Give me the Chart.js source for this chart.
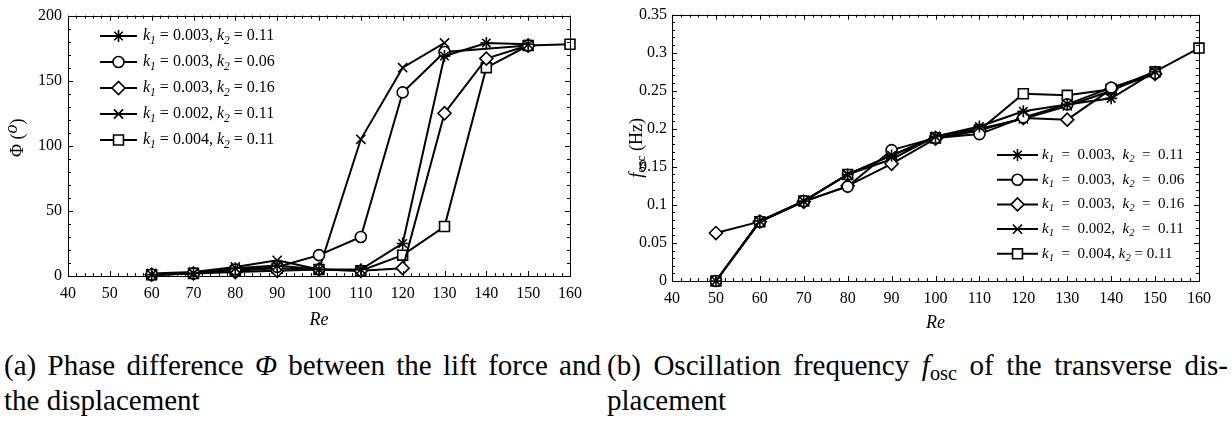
<!DOCTYPE html>
<html>
<head>
<meta charset="utf-8">
<script src="https://cdn.jsdelivr.net/npm/chart.js@4.4.0/dist/chart.umd.min.js"></script>
<style>
  body { margin: 0; width: 1232px; height: 425px; background: #fff; position: relative; overflow: hidden; font-family: "Liberation Serif", serif; color: #000; }
  #phiChart { position: absolute; left: 0; top: 0; }
  #freqChart { position: absolute; left: 615px; top: 0; }
  .cap { position: absolute; font-size: 29px; line-height: 35px; white-space: nowrap; }
  .cap.just { white-space: normal; text-align: justify; text-align-last: justify; }
  .cap sub { font-size: 0.7em; vertical-align: -0.25em; line-height: 0; }
</style>
</head>
<body>
<canvas id="phiChart" width="600" height="335"></canvas>
<canvas id="freqChart" width="617" height="338"></canvas>
<div class="cap just" style="left:4px; top:348px; width:597px">(a) Phase difference <i>Φ</i> between the lift force and</div>
<div class="cap" style="left:4px; top:383px">the displacement</div>
<div class="cap just" style="left:607px; top:348px; width:621px">(b) Oscillation frequency <i>f</i><sub>osc</sub> of the transverse dis-</div>
<div class="cap" style="left:607px; top:383px">placement</div>

<script>
// Данные: Re и значения для каждой пары (k1, k2)
const reLeft = [60, 70, 80, 90, 100, 110, 120, 130, 140, 150, 160];
const phiK003K011 = [1, 2, 6, 8, 5, 5, 25, 169, 179, 178, null];
const phiK003K006 = [1, 2, 5, 7, 16, 30, 141, 172, null, 177, null];
const phiK003K016 = [1, 2, 3, 4, 5, 4, 6, 125, 167, 177, null];
const phiK002K011 = [2, 3, 7, 12, 5, 105, 160, 179, null, null, null];
const phiK004K011 = [1, 2, 4, 6, 5, 4, 16, 38, 160, 177, 178];

const reRight = [50, 60, 70, 80, 90, 100, 110, 120, 130, 140, 150, 160];
const fK003K011 = [0, 0.079, 0.105, 0.14, 0.165, 0.19, 0.203, 0.223, 0.232, 0.24, 0.275, null];
const fK003K006 = [0, 0.078, 0.105, 0.124, 0.172, 0.188, 0.193, 0.215, 0.232, 0.254, 0.273, null];
const fK003K016 = [0.063, 0.078, 0.104, 0.125, 0.154, 0.187, 0.198, 0.214, 0.212, 0.252, 0.272, null];
const fK002K011 = [0, 0.078, 0.105, 0.14, 0.16, 0.19, 0.2, 0.213, 0.23, 0.25, 0.275, null];
const fK004K011 = [0, 0.078, 0.105, 0.14, 0.165, 0.188, 0.198, 0.246, 0.244, 0.252, 0.275, 0.306];

const k1Values = ["0.003", "0.003", "0.003", "0.002", "0.004"];
const k2Values = ["0.11", "0.06", "0.16", "0.11", "0.11"];
const xTicks = [40, 50, 60, 70, 80, 90, 100, 110, 120, 130, 140, 150, 160];

// Маркеры как в оригинале
const markers = ["star", "circle", "rectRot", "crossRot", "rect"];
const markerRadius = [6, 5.5, 6.5, 6.5, 7];
const FONT = "Liberation Serif";

function makeSets(xs, series) {
  return series.map(function (ys, i) {
    return {
      label: "k1 = " + k1Values[i] + ", k2 = " + k2Values[i],
      data: xs.map(function (x, j) { return { x: x, y: ys[j] }; }),
      borderColor: "#000",
      borderWidth: 2,
      backgroundColor: "#fff",
      pointStyle: markers[i],
      pointRadius: markerRadius[i],
      pointBorderWidth: 1.6,
      pointBackgroundColor: "#fff",
      pointBorderColor: "#000",
      spanGaps: true,
      tension: 0,
      clip: false,
    };
  });
}

// Рисует строку из кусочков (курсив, индекс)
function drawSegs(ctx, segs, x, y, size) {
  segs.forEach(function (s) {
    const sz = s.sub ? size * 0.72 : size;
    ctx.font = (s.it ? "italic " : "") + sz + "px '" + FONT + "'";
    ctx.fillText(s.t, x, y + (s.sub ? size * 0.28 : 0) - (s.sup ? size * 0.3 : 0));
    x += ctx.measureText(s.t).width;
  });
  return x;
}
function segsWidth(ctx, segs, size) {
  let w = 0;
  segs.forEach(function (s) {
    const sz = s.sub ? size * 0.72 : size;
    ctx.font = (s.it ? "italic " : "") + sz + "px '" + FONT + "'";
    w += ctx.measureText(s.t).width;
  });
  return w;
}

// Рамка, внутренние засечки, подпись оси Y и легенда
const framePlugin = {
  id: "frame",
  afterDraw(chart, args, o) {
    const ctx = chart.ctx, a = chart.chartArea;
    const xs = chart.scales.x, ys = chart.scales.y;
    ctx.save();
    ctx.strokeStyle = "#000";
    ctx.fillStyle = "#000";
    ctx.lineWidth = 1;
    ctx.strokeRect(Math.round(a.left) + 0.5, Math.round(a.top) + 0.5, Math.round(a.right - a.left), Math.round(a.bottom - a.top));

    ctx.beginPath();
    let n = Math.round((xs.max - xs.min) / o.xMinor);
    for (let k = 0; k <= n; k++) {
      const px = Math.round(xs.getPixelForValue(xs.min + k * o.xMinor)) + 0.5;
      const len = k % o.xEvery === 0 ? 5 : 3;
      ctx.moveTo(px, a.bottom); ctx.lineTo(px, a.bottom - len);
      ctx.moveTo(px, a.top); ctx.lineTo(px, a.top + len);
    }
    n = Math.round((ys.max - ys.min) / o.yMinor);
    for (let k = 0; k <= n; k++) {
      const py = Math.round(ys.getPixelForValue(ys.min + k * o.yMinor)) + 0.5;
      const len = k % o.yEvery === 0 ? 5 : 3;
      ctx.moveTo(a.left, py); ctx.lineTo(a.left + len, py);
      ctx.moveTo(a.right, py); ctx.lineTo(a.right - len, py);
    }
    ctx.stroke();

    // подпись оси Y
    ctx.save();
    ctx.translate(o.yTitleX, (a.top + a.bottom) / 2 + o.yTitleShift);
    ctx.rotate(-Math.PI / 2);
    ctx.textBaseline = "middle";
    ctx.textAlign = "left";
    const tw = segsWidth(ctx, o.yTitle, o.yTitleSize);
    drawSegs(ctx, o.yTitle, -tw / 2, 0, o.yTitleSize);
    ctx.restore();

    // легенда
    const L = o.legend;
    ctx.textBaseline = "middle";
    ctx.textAlign = "left";
    chart.data.datasets.forEach(function (ds, i) {
      const y = L.y + i * L.dy;
      ctx.lineWidth = 2;
      ctx.beginPath();
      ctx.moveTo(L.x0, y); ctx.lineTo(L.x1, y);
      ctx.stroke();
      ctx.lineWidth = 1.6;
      ctx.fillStyle = "#fff";
      Chart.helpers.drawPoint(ctx, { pointStyle: ds.pointStyle, radius: ds.pointRadius, rotation: 0, borderWidth: 1.6 }, (L.x0 + L.x1) / 2, y);
      ctx.fillStyle = "#000";
      const segs = [
        { t: "k", it: true }, { t: "1", it: true, sub: true }, { t: L.eq + k1Values[i] + "," + (i === 4 ? L.gap2 : L.gap) },
        { t: "k", it: true }, { t: "2", it: true, sub: true }, { t: (i === 4 ? " = " : L.eq) + k2Values[i] },
      ];
      drawSegs(ctx, segs, L.tx, y, L.size);
    });
    ctx.restore();
  },
};

function makeChart(id, xs, series, yOpts, fit, frame) {
  return new Chart(document.getElementById(id), {
    type: "line",
    data: { datasets: makeSets(xs, series) },
    options: {
      responsive: false,
      animation: false,
      layout: { padding: fit.padding },
      plugins: { legend: { display: false }, tooltip: { enabled: false }, frame: frame },
      scales: {
        x: {
          type: "linear",
          min: 40, max: 160,
          afterBuildTicks: function (s) { s.ticks = xTicks.map(function (v) { return { value: v }; }); },
          afterFit: function (s) { s.height = fit.xHeight; },
          grid: { display: false, drawTicks: false },
          border: { display: false },
          ticks: { color: "#000", padding: 8, maxRotation: 0, autoSkip: false, font: { family: FONT, size: 16 } },
          title: { display: true, text: "Re", color: "#000", padding: { top: 0, bottom: 4 }, font: { family: FONT, size: 18, style: "italic" } },
        },
        y: Object.assign({
          afterFit: function (s) { s.width = fit.yWidth; },
          grid: { display: false, drawTicks: false },
          border: { display: false },
        }, yOpts),
      },
    },
    plugins: [framePlugin],
  });
}

makeChart("phiChart", reLeft,
  [phiK003K011, phiK003K006, phiK003K016, phiK002K011, phiK004K011],
  {
    min: 0, max: 200,
    ticks: { stepSize: 50, color: "#000", padding: 6, font: { family: FONT, size: 16 } },
  },
  { padding: { top: 9, right: 30, left: 0, bottom: 0 }, xHeight: 59, yWidth: 68 },
  {
    xMinor: 2, xEvery: 5, yMinor: 10, yEvery: 5,
    yTitleX: 18, yTitleShift: -8, yTitleSize: 18,
    yTitle: [{ t: "Φ (" }, { t: "o", it: true, sup: true }, { t: ")" }],
    legend: { x0: 100, x1: 137, tx: 143, y: 36, dy: 26, size: 16, eq: " = ", gap: " ", gap2: " " },
  });

makeChart("freqChart", reRight,
  [fK003K011, fK003K006, fK003K016, fK002K011, fK004K011],
  {
    min: 0, max: 0.35,
    ticks: {
      stepSize: 0.05, color: "#000", padding: 5, font: { family: FONT, size: 16 },
      callback: function (v) { return String(+v.toFixed(2)); },
    },
  },
  { padding: { top: 13, right: 33, left: 0, bottom: 0 }, xHeight: 57, yWidth: 57 },
  {
    xMinor: 2, xEvery: 5, yMinor: 0.01, yEvery: 5,
    yTitleX: 22, yTitleShift: 0, yTitleSize: 18,
    yTitle: [{ t: "f", it: true }, { t: "osc", sub: true }, { t: " (Hz)" }],
    legend: { x0: 382, x1: 423, tx: 427, y: 155, dy: 24.7, size: 15, eq: "  =  ", gap: "  ", gap2: " " },
  });
</script>
</body>
</html>
